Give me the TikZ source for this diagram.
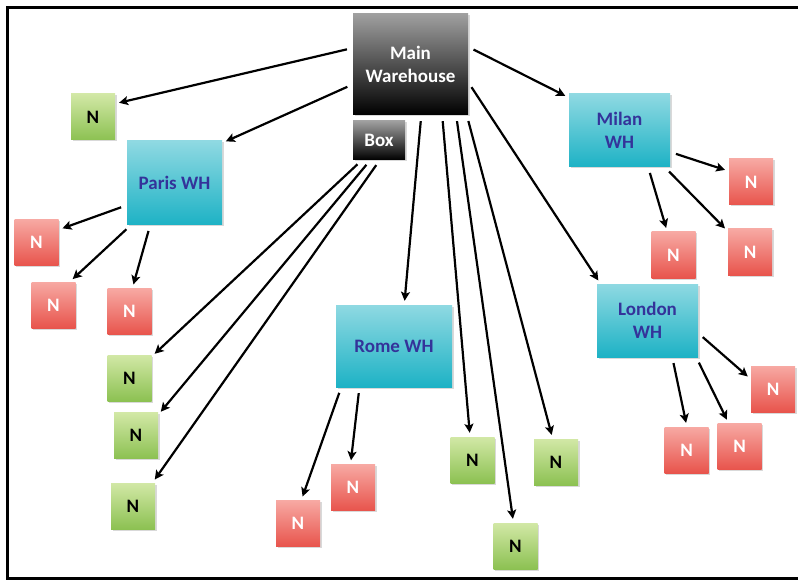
\documentclass[tikz,border=0pt]{standalone}
\usepackage{fontspec}
\setmainfont{Carlito}
\usetikzlibrary{arrows.meta,shadows}

\definecolor{whtop}{HTML}{8FD9E2}
\definecolor{whbot}{HTML}{1DB2C5}
\definecolor{whtext}{HTML}{34339A}
\definecolor{gtop}{HTML}{D2E8A6}
\definecolor{gbot}{HTML}{8CC152}
\definecolor{rtop}{HTML}{F7A9A3}
\definecolor{rbot}{HTML}{E8544C}

\begin{document}
\begin{tikzpicture}[x=1pt,y=-1pt]
\useasboundingbox (0,0) rectangle (798,580);
\draw[line width=3pt] (798,8) -| (7,578) -- (798,578);

\begin{scope}[every node/.style={rectangle,inner sep=0pt,top color=gray!75,bottom color=black,
              text=white,font=\fontsize{19}{23}\selectfont\bfseries,align=center,
              drop shadow={shadow xshift=1.5pt,shadow yshift=-1.5pt,opacity=0.3}}]
    \node[minimum width=115pt,minimum height=101pt] (main) at (410.5,64.5) {Main\\Warehouse};
    \node[minimum width=52pt,minimum height=39pt] (box) at (379,140.5) {Box};
\end{scope}

\begin{scope}[every node/.style={rectangle,inner sep=0pt,top color=whtop,bottom color=whbot,
              text=whtext,font=\fontsize{19}{23}\selectfont\bfseries,align=center,
              drop shadow={shadow xshift=1.5pt,shadow yshift=-1.5pt,opacity=0.3}}]
    \node[minimum width=95pt,minimum height=84pt] (paris) at (174.5,183) {Paris WH};
    \node[minimum width=101pt,minimum height=73pt] (milan) at (619.5,130.5) {Milan\\WH};
    \node[minimum width=101pt,minimum height=73pt] (london) at (647.5,320.5) {London\\WH};
    \node[minimum width=116pt,minimum height=82pt] (rome) at (394,346) {Rome WH};
\end{scope}

\begin{scope}[every node/.style={rectangle,inner sep=0pt,minimum width=44pt,minimum height=46pt,
              top color=gtop,bottom color=gbot,text=black,font=\fontsize{19}{23}\selectfont\bfseries,
              drop shadow={shadow xshift=1.5pt,shadow yshift=-1.5pt,opacity=0.3}}]
    \node (main1) at (93,117) {N};
    \node (main2) at (472.5,460) {N};
    \node (main3) at (515.5,546) {N};
    \node (main4) at (556,462) {N};
    \node (box1) at (129.5,378) {N};
    \node (box2) at (136,435.5) {N};
    \node (box3) at (133,506) {N};
\end{scope}

\begin{scope}[every node/.style={rectangle,inner sep=0pt,minimum width=44pt,minimum height=46pt,
              top color=rtop,bottom color=rbot,text=white,font=\fontsize{19}{23}\selectfont\bfseries,
              drop shadow={shadow xshift=1.5pt,shadow yshift=-1.5pt,opacity=0.3}}]
    \node (paris1) at (36.5,242.5) {N};
    \node (paris2) at (53.5,305) {N};
    \node (paris3) at (129.5,311.5) {N};
    \node (milan1) at (751,182) {N};
    \node (milan2) at (673.5,255) {N};
    \node (milan3) at (750,252) {N};
    \node (london1) at (773,389) {N};
    \node (london2) at (686.5,450) {N};
    \node (london3) at (739.5,446.5) {N};
    \node (rome1) at (298,523.5) {N};
    \node (rome2) at (353,487.5) {N};
\end{scope}

\begin{scope}[>={Stealth[length=9pt,width=9pt,inset=2pt]},
              every edge/.style={draw=black,line width=2.2pt,shorten <=6pt,shorten >=4pt}]
    \path [->] (main.164) edge (main1.31);
    \path [->] (main.199) edge (paris.40);
    \path [->] (main.17) edge (milan.147);
    \path [->] (main.343) edge (london.142);
    \path [->] (main.282) edge (rome.76);
    \path [->] (main.302) edge (main2.96);
    \path [->] (main.312) edge (main3.95);
    \path [->] (main.318) edge (main4.98);
    \path [->] (box.229) edge (box1.44);
    \path [->] (box.246) edge (box2.43);
    \path [->] (box.272) edge (box3.50);
    \path [->] (paris.205) edge (paris1.30);
    \path [->] (paris.224) edge (paris2.55);
    \path [->] (paris.240) edge (paris3.83);
    \path [->] (milan.337) edge (milan1.154);
    \path [->] (milan.308) edge (milan2.105);
    \path [->] (milan.321) edge (milan3.137);
    \path [->] (london.346) edge (london1.156);
    \path [->] (london.304) edge (london2.89);
    \path [->] (london.323) edge (london3.115);
    \path [->] (rome.218) edge (rome1.82);
    \path [->] (rome.230) edge (rome2.96);
\end{scope}
\end{tikzpicture}
\end{document}
